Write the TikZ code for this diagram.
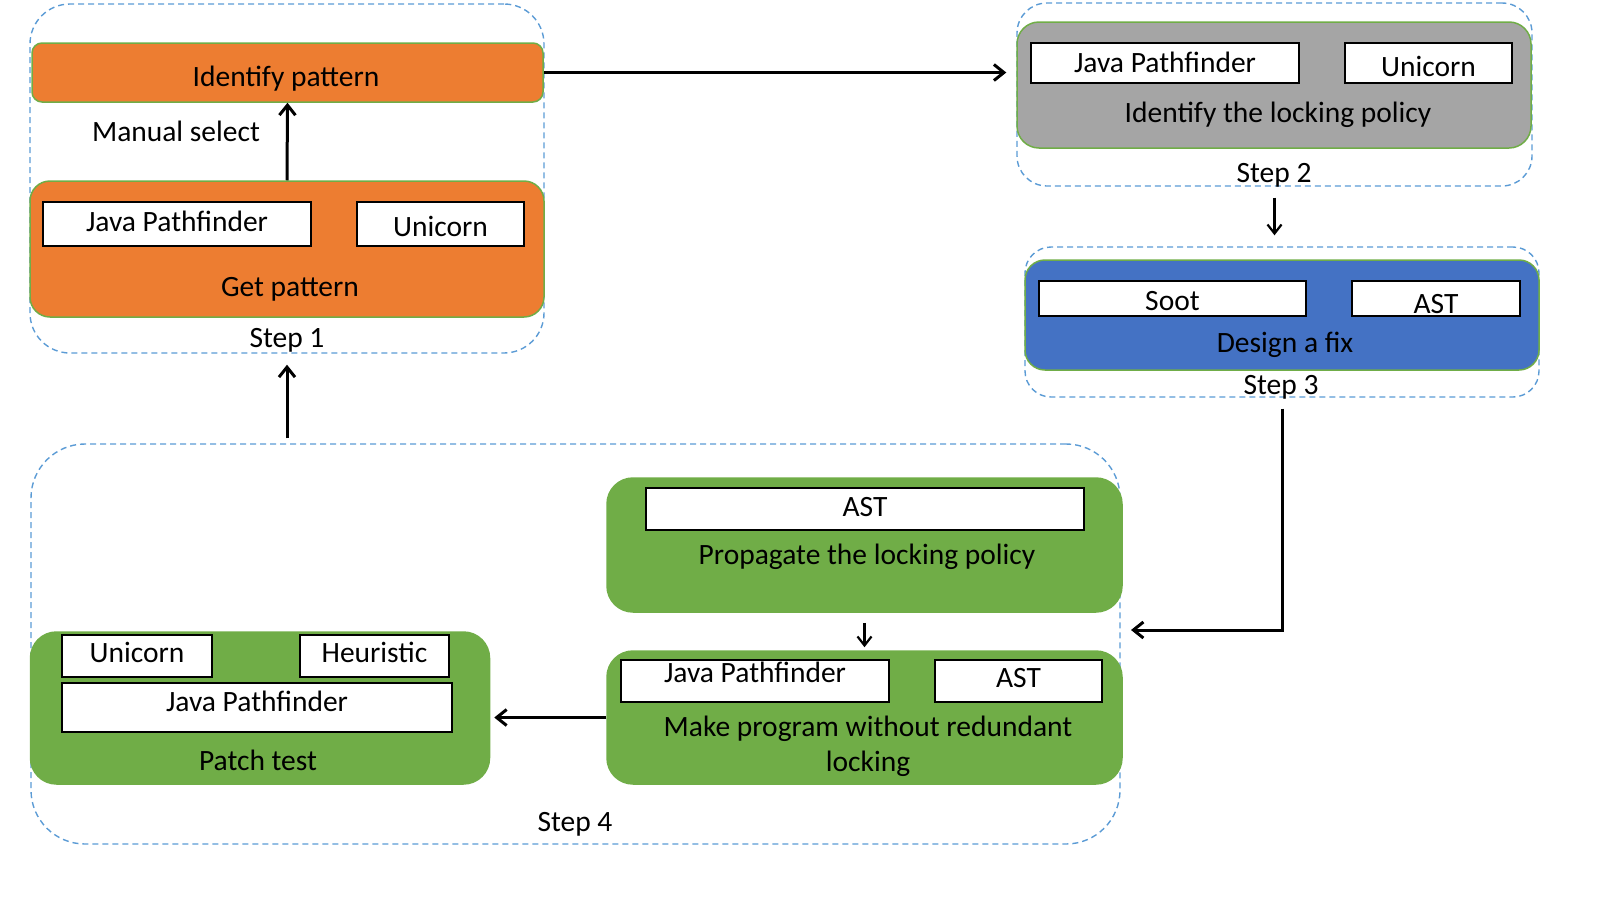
\documentclass[tikz,border=0pt]{standalone}
\usepackage{fontspec}
\setmainfont{Carlito}
\usetikzlibrary{arrows.meta}
\definecolor{myorange}{HTML}{ED7D31}
\definecolor{mygray}{HTML}{A5A5A5}
\definecolor{myblue}{HTML}{4472C4}
\definecolor{mygreen}{HTML}{70AD47}
\definecolor{dashblue}{HTML}{5B9BD5}
\tikzset{
  container/.style={draw=dashblue, dash pattern=on 3pt off 2pt, line width=0.7pt, inner sep=0pt},
  stagebox/.style={draw=mygreen, line width=0.75pt, inner sep=0pt},
  tool/.style={draw=black, fill=white, line width=1pt, inner sep=0pt, text height=9.5pt, text depth=0pt},
  lbl/.style={inner sep=0pt, text height=9.5pt, text depth=0pt},
  arr/.style={-{Straight Barb[length=5pt,width=8pt]}, line width=1.5pt},
  arrthin/.style={-{Straight Barb[length=4.5pt,width=7pt]}, line width=1.1pt},
}
\begin{document}
\begin{tikzpicture}[x=0.5pt,y=-0.5pt, font=\fontsize{14.75}{17.5}\selectfont]
\useasboundingbox (0,0) rectangle (1600,900);

% ---------- Step 1 ----------
\node[container, rounded corners=20pt, minimum width=257pt, minimum height=174.5pt] (s1c) at (287,178.5) {};
\node[stagebox, fill=myorange, rounded corners=5pt, minimum width=255.5pt, minimum height=29.5pt] (ident) at (287.5,72.5) {};
\node[lbl] (identt) at (286,77) {Identify pattern};
\node[stagebox, fill=myorange, rounded corners=10pt, minimum width=257pt, minimum height=68pt] (get) at (287,249) {};
\node[tool, minimum width=134pt, minimum height=22pt] (jpf1) at (177,224) {\raisebox{1pt}{Java Pathfinder}};
\node[tool, minimum width=83.5pt, minimum height=22pt] (uni1) at (440.5,224) {\raisebox{-1.5pt}{Unicorn}};
\node[lbl] (gett) at (290,287) {Get pattern};
\node[lbl] (manual) at (176,132) {Manual select};
\node[lbl] (s1t) at (287,338) {Step 1};

% ---------- Step 2 ----------
\node[container, rounded corners=15pt, minimum width=257.5pt, minimum height=91.5pt] (s2c) at (1274.5,94.5) {};
\node[stagebox, fill=mygray, rounded corners=11pt, minimum width=257pt, minimum height=63pt] (lockid) at (1274,85) {};
\node[tool, minimum width=134pt, minimum height=20pt] (jpf2) at (1165,63) {Java Pathfinder};
\node[tool, minimum width=83.5pt, minimum height=20pt] (uni2) at (1428.5,63) {\raisebox{-1.75pt}{Unicorn}};
\node[lbl] (lockidt) at (1278,113) {Identify the locking policy};
\node[lbl] (s2t) at (1274,173) {Step 2};

% ---------- Step 3 ----------
\node[container, rounded corners=13pt, minimum width=257pt, minimum height=75pt] (s3c) at (1282,322) {};
\node[stagebox, fill=myblue, rounded corners=10pt, minimum width=257pt, minimum height=55pt] (fix) at (1282,315) {};
\node[tool, minimum width=133.5pt, minimum height=17.5pt] (soot) at (1172.5,298.5) {\raisebox{-1pt}{Soot}};
\node[tool, minimum width=84pt, minimum height=17.5pt] (ast3) at (1436,298.5) {\raisebox{-2.5pt}{AST}};
\node[lbl] (fixt) at (1285,343) {Design a fix};
\node[lbl] (s3t) at (1281,385) {Step 3};

% ---------- Step 4 ----------
\node[container, rounded corners=27pt, minimum width=544.5pt, minimum height=200pt] (s4c) at (575.5,644) {};
\node[stagebox, fill=mygreen, rounded corners=13pt, minimum width=257.5pt, minimum height=67pt] (prop) at (864.5,545) {};
\node[tool, minimum width=219pt, minimum height=21pt] (ast4a) at (865,509) {\raisebox{1pt}{AST}};
\node[lbl] (propt) at (867,555) {Propagate the locking policy};
\node[stagebox, fill=mygreen, rounded corners=13pt, minimum width=257.5pt, minimum height=66.5pt] (make) at (864.5,717.5) {};
\node[tool, minimum width=134pt, minimum height=21pt] (jpf4) at (755,681) {\raisebox{4pt}{Java Pathfinder}};
\node[tool, minimum width=83.5pt, minimum height=21pt] (ast4b) at (1018.5,681) {\raisebox{1.5pt}{AST}};
\node[inner sep=0pt, anchor=base] (maket) at (868,736.5) {\begin{tabular}[t]{@{}c@{}}Make program without redundant\\locking\end{tabular}};
\node[stagebox, fill=mygreen, rounded corners=13pt, minimum width=229.5pt, minimum height=76pt] (patch) at (260,708) {};
\node[tool, minimum width=75pt, minimum height=21pt] (uni4) at (137,656) {\raisebox{1.5pt}{Unicorn}};
\node[tool, minimum width=74.5pt, minimum height=21pt] (heur) at (374.5,656) {\raisebox{1.5pt}{Heuristic}};
\node[tool, minimum width=195pt, minimum height=24.5pt] (jpf5) at (257,707.5) {\raisebox{3pt}{Java Pathfinder}};
\node[lbl] (patcht) at (258,761) {Patch test};
\node[lbl] (s4t) at (575,822) {Step 4};

% ---------- connectors ----------
\coordinate (s4in) at (1131,630);
\draw[arr] (get.north) -- (ident.south);
\draw[arr, shorten >=5pt] (ident.east) -- (ident.east -| s2c.west);
\draw[arrthin, shorten <=5.5pt, shorten >=5.5pt] (s2c.south) -- (s2c.south |- s3c.north);
\draw[arr, shorten <=5.5pt] (s3c.south) |- (s4in);
\draw[arrthin, shorten <=5pt, shorten >=1.5pt] (prop.south) -- (make.north);
\draw[arr, shorten >=2pt] (make.west) -- (make.west -| patch.east);
\draw[arr, shorten <=2.5pt, shorten >=5.5pt] (s4c.north -| s1c.south) -- (s1c.south);
\end{tikzpicture}
\end{document}
